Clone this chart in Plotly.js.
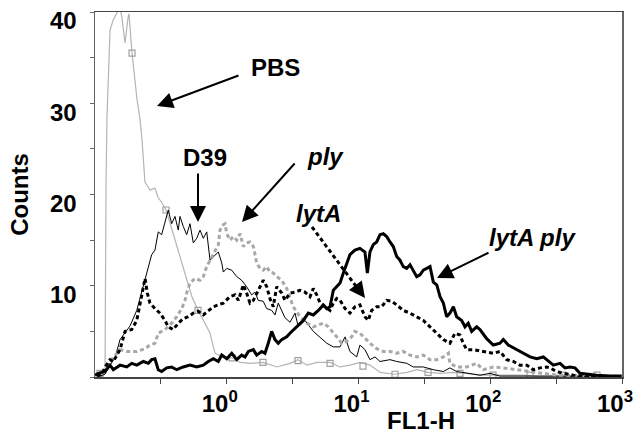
<!DOCTYPE html>
<html>
<head>
<meta charset="utf-8">
<script src="https://cdn.plot.ly/plotly-3.0.1.min.js"></script>
<style>html,body{margin:0;padding:0;background:#fff}#chart{width:639px;height:437px}</style>
</head>
<body>
<div id="chart"></div>
<script>
// x values are log10(FL1-H); y values are counts
const pbsLogX = [-0.985,-0.962,-0.939,-0.924,-0.916,-0.909,-0.886,-0.863,-0.833,-0.818,-0.795,-0.772,-0.750,-0.742,-0.719,-0.681,-0.658,-0.643,-0.621,-0.583,-0.545,-0.522,-0.492,-0.461,-0.431,-0.378,-0.340,-0.302,-0.264,-0.218,-0.165,-0.127,-0.089,-0.028,0.040,0.101,0.176,0.275,0.381,0.480,0.541,0.609,0.685,0.784,0.860,0.936,1.012,1.088,1.164,1.277,1.368,1.444,1.528,1.618,1.717,1.823,1.922,2.074,2.226,2.377,2.529,2.681,2.833,2.985];
const pbsCounts = [0.1,0.3,0.4,0.5,21.6,28.5,38.0,39.1,39.9,41.3,39.3,36.6,39.3,39.8,35.5,30.4,28.2,26.0,21.4,20.5,20.7,19.7,19.1,18.3,16.9,14.2,12.5,10.6,8.8,7.3,5.9,4.8,2.6,2.2,2.1,1.6,1.5,1.6,1.1,1.5,1.9,1.3,1.6,1.6,1.1,1.3,1.6,1.3,0.5,0.3,0.5,0.8,0.5,0.4,0.5,0.4,0.2,0.2,0.2,0.1,0.2,0.1,0.1,0.1];
const pbsMarkLogX = [-0.962,-0.719,-0.461,-0.218,0.040,0.275,0.541,0.784,1.034,1.277,1.528,1.770,2.021,2.302,2.552,2.810];
const pbsMarkCounts = [0.4,35.5,18.3,7.3,2.1,1.6,1.8,1.5,1.2,0.3,0.5,0.4,0.2,0.2,0.2,0.2];

const d39LogX = [-0.962,-0.924,-0.886,-0.848,-0.810,-0.772,-0.734,-0.683,-0.608,-0.570,-0.545,-0.520,-0.494,-0.469,-0.444,-0.418,-0.393,-0.368,-0.355,-0.330,-0.304,-0.279,-0.254,-0.228,-0.203,-0.178,-0.152,-0.127,-0.089,-0.064,-0.038,-0.026,0.000,0.038,0.076,0.113,0.151,0.189,0.214,0.239,0.277,0.303,0.341,0.366,0.391,0.417,0.442,0.480,0.518,0.543,0.594,0.657,0.708,0.759,0.809,0.860,0.898,0.935,0.986,1.011,1.049,1.087,1.125,1.163,1.239,1.290,1.366,1.416,1.492,1.568,1.644,1.694,1.745,1.821,1.922,1.998,2.074,2.302,2.605,2.985];
const d39Counts = [0.1,0.3,1.3,2.1,4.1,4.9,5.6,7.3,11.4,13.4,13.9,15.9,15.6,17.0,18.3,16.8,17.6,16.1,17.6,16.5,15.6,16.8,14.7,15.2,16.1,15.2,15.9,12.8,13.4,13.7,12.5,11.5,11.9,11.7,11.0,10.6,9.9,9.0,9.3,8.4,8.3,7.5,7.3,6.8,8.1,7.2,6.5,6.0,7.0,5.5,6.2,5.0,4.4,3.7,3.3,3.3,4.4,2.8,2.2,3.5,3.0,1.9,2.2,1.7,1.9,1.7,1.5,1.1,1.1,0.8,0.6,1.0,0.6,0.4,0.2,0.4,0.1,0.1,0.05,0.05];

const plyLogX = [-0.985,-0.939,-0.886,-0.810,-0.759,-0.683,-0.620,-0.583,-0.545,-0.520,-0.469,-0.418,-0.380,-0.342,-0.317,-0.304,-0.279,-0.241,-0.203,-0.178,-0.152,-0.127,-0.089,-0.064,-0.051,-0.026,-0.013,0.000,0.025,0.050,0.076,0.101,0.126,0.151,0.176,0.202,0.227,0.252,0.277,0.303,0.328,0.353,0.379,0.417,0.455,0.505,0.556,0.607,0.657,0.733,0.771,0.797,0.835,0.872,0.910,0.948,0.973,1.011,1.049,1.087,1.138,1.188,1.239,1.290,1.340,1.391,1.442,1.492,1.543,1.594,1.644,1.682,1.694,1.745,1.821,1.897,1.947,2.023,2.099,2.201,2.302,2.403,2.504,2.681,2.833];
const plyCounts = [0.1,0.5,1.7,3.0,2.8,2.8,3.1,3.5,3.7,4.8,5.2,5.9,6.6,7.5,8.4,9.2,10.3,10.8,10.6,11.0,12.1,12.8,13.7,14.5,16.1,16.7,16.8,15.7,15.0,15.4,15.0,15.7,14.3,14.7,14.8,14.3,12.5,11.9,11.7,12.1,11.5,11.4,11.0,10.6,9.7,7.7,6.6,5.9,5.5,5.9,5.5,5.0,4.4,3.7,3.9,4.4,5.0,4.8,4.2,3.7,3.1,2.8,2.8,2.6,2.8,2.4,2.2,2.4,1.9,1.9,2.2,2.6,1.5,1.1,1.1,1.5,0.8,1.1,1.0,0.8,0.6,0.4,0.2,0.15,0.1];

const lytALogX = [-0.985,-0.947,-0.924,-0.886,-0.861,-0.810,-0.772,-0.721,-0.683,-0.658,-0.633,-0.620,-0.603,-0.583,-0.545,-0.507,-0.469,-0.444,-0.406,-0.368,-0.330,-0.292,-0.254,-0.216,-0.178,-0.140,-0.102,-0.064,-0.026,0.025,0.063,0.088,0.126,0.151,0.176,0.202,0.227,0.252,0.277,0.303,0.328,0.353,0.379,0.417,0.442,0.480,0.518,0.556,0.594,0.632,0.657,0.683,0.708,0.746,0.784,0.809,0.835,0.860,0.898,0.935,0.973,1.011,1.049,1.074,1.100,1.138,1.176,1.214,1.252,1.290,1.340,1.391,1.442,1.492,1.543,1.594,1.644,1.694,1.732,1.770,1.795,1.821,1.871,1.947,2.023,2.074,2.125,2.175,2.226,2.277,2.327,2.378,2.428,2.454,2.504,2.555,2.630,2.706,2.833];
const lytACounts = [0.1,0.3,1.1,1.9,1.7,3.0,5.0,5.2,6.2,8.1,9.9,10.8,9.2,8.1,7.5,7.0,6.2,5.5,5.2,5.9,6.4,6.6,7.0,7.2,6.8,7.2,7.7,7.9,8.1,8.8,9.0,8.4,10.1,9.2,8.1,8.4,9.2,9.9,10.6,9.9,8.6,7.7,9.9,9.2,8.4,9.2,9.3,9.5,9.3,8.8,9.7,9.0,8.1,7.7,7.3,8.1,8.6,8.4,7.5,7.0,7.7,7.9,6.6,6.2,7.3,7.7,7.7,8.4,8.3,7.9,7.3,7.0,6.6,6.2,5.5,4.8,4.1,3.7,4.8,4.6,3.7,3.0,3.0,2.8,2.6,2.8,1.9,1.7,1.3,1.3,0.8,1.0,1.1,1.0,0.6,0.4,0.2,0.1,0.05];

const lytAplyLogX = [-1.000,-0.975,-0.924,-0.886,-0.861,-0.835,-0.810,-0.759,-0.721,-0.683,-0.633,-0.595,-0.570,-0.545,-0.520,-0.494,-0.456,-0.418,-0.380,-0.330,-0.279,-0.228,-0.178,-0.140,-0.102,-0.064,-0.038,0.000,0.038,0.076,0.113,0.139,0.164,0.202,0.227,0.265,0.290,0.315,0.341,0.366,0.391,0.417,0.455,0.480,0.518,0.581,0.619,0.657,0.695,0.733,0.759,0.784,0.809,0.835,0.860,0.885,0.910,0.935,0.973,1.011,1.049,1.067,1.087,1.112,1.138,1.163,1.188,1.214,1.239,1.264,1.290,1.315,1.340,1.366,1.391,1.416,1.442,1.467,1.492,1.518,1.543,1.568,1.594,1.619,1.644,1.669,1.694,1.720,1.745,1.783,1.808,1.833,1.859,1.897,1.922,1.973,2.023,2.074,2.099,2.137,2.201,2.251,2.302,2.353,2.403,2.428,2.479,2.530,2.567,2.605,2.643,2.681,2.732,2.808,2.909,2.998];
const lytAplyCounts = [0.2,0.4,0.6,1.3,0.8,1.1,1.3,1.1,1.5,1.3,1.7,1.5,1.9,2.0,0.8,0.6,1.0,1.1,0.8,1.1,1.3,1.1,1.3,1.7,2.0,1.7,2.4,2.0,2.6,1.9,2.4,2.2,2.8,3.0,2.4,2.8,2.6,3.7,5.0,4.1,3.7,4.1,4.4,4.8,5.3,6.2,7.0,6.8,7.3,7.9,7.5,7.7,9.5,9.9,10.3,11.4,12.5,13.4,13.9,14.1,13.7,11.4,13.7,14.5,14.8,15.6,15.7,15.4,14.8,14.3,13.2,12.8,12.1,11.9,12.3,11.7,11.0,11.2,11.7,11.9,12.1,10.4,10.1,8.8,8.1,6.6,7.0,7.7,6.6,6.2,5.5,5.9,5.0,5.5,5.2,4.2,3.5,3.7,4.1,3.5,3.0,2.6,2.2,2.0,2.2,1.9,1.3,1.5,1.0,1.1,1.0,0.4,0.3,0.2,0.1,0.1];

const xTickVals = [1,10,100,1000];
const xTickText = ['10<sup>0</sup>','10<sup>1</sup>','10<sup>2</sup>','10<sup>3</sup>'];
const xMinorVals = [0.316,3.16,31.6,316];
const yTickVals = [10,20,30,40];
const yTickText = ['10','20','30','40'];
const yMinorVals = [0,5,15,25,35];

const toX = a => a.map(v => Math.pow(10, v));
const FONT = 'Liberation Sans, Arial, sans-serif';

const traces = [
  {x: toX(pbsLogX), y: pbsCounts, mode:'lines', name:'PBS', line:{color:'#b4b4b4', width:1.2}},
  {x: toX(pbsMarkLogX), y: pbsMarkCounts, mode:'markers', name:'PBS markers', showlegend:false,
   marker:{symbol:'square-open', size:6, color:'#a0a0a0', line:{width:1.2}}},
  {x: toX(d39LogX), y: d39Counts, mode:'lines', name:'D39', line:{color:'#000', width:1}},
  {x: toX(plyLogX), y: plyCounts, mode:'lines', name:'ply', line:{color:'#a8a8a8', width:3, dash:'4px,3px'}},
  {x: toX(lytALogX), y: lytACounts, mode:'lines', name:'lytA', line:{color:'#000', width:3, dash:'4px,3px'}},
  {x: toX(lytAplyLogX), y: lytAplyCounts, mode:'lines', name:'lytA ply', line:{color:'#000', width:3}}
];

const W = 527, H = 365, L0 = 95, T0 = 12;
const px = p => (p - L0) / W;
const py = p => (T0 + H - p) / H;

function arrow(tx, ty, sx, sy) {
  return {xref:'paper', yref:'paper', axref:'pixel', ayref:'pixel', x:px(tx), y:py(ty), ax:sx-tx, ay:sy-ty,
    text:'', showarrow:true, arrowhead:2, arrowsize:1.6, arrowwidth:2, arrowcolor:'#000'};
}
function label(cx, cy, t, italic) {
  return {xref:'paper', yref:'paper', x:px(cx), y:py(cy), xanchor:'center', yanchor:'middle', showarrow:false,
    text: italic ? '<b><i>'+t+'</i></b>' : '<b>'+t+'</b>', font:{family:FONT, size:24, color:'#000'}};
}

const annotations = [
  label(275, 67, 'PBS', false), arrow(157, 106, 240, 75),
  label(205, 157, 'D39', false), arrow(198, 222, 198, 172),
  label(325, 156, 'ply', true), arrow(242, 222, 296, 162),
  label(318, 214, 'lytA', true), arrow(365, 298, 356, 286),
  label(532, 237, 'lytA ply', true), arrow(437, 278, 490, 252),
  {xref:'paper', yref:'paper', x:px(421), y:py(420), xanchor:'center', yanchor:'middle', showarrow:false,
   text:'<b>FL1-H</b>', font:{family:FONT, size:24, color:'#000'}}
];

const shapes = [
  {type:'line', xref:'paper', yref:'paper', x0:px(312), y0:py(227), x1:px(358), y1:py(289),
   line:{color:'#000', width:3, dash:'4px,3px'}}
];

const layout = {
  width:639, height:437,
  margin:{l:L0, r:639-L0-W, t:T0, b:437-T0-H},
  paper_bgcolor:'#fff', plot_bgcolor:'#fff',
  showlegend:false,
  font:{family:FONT, color:'#000'},
  xaxis:{type:'log', range:[-1,3], tickmode:'array', tickvals:xTickVals, ticktext:xTickText,
    ticks:'outside', ticklen:5, tickcolor:'#444', showgrid:false, zeroline:false,
    minor:{tickmode:'array', tickvals:xMinorVals, ticks:'outside', ticklen:5, tickcolor:'#444', showgrid:false},
    showline:true, linecolor:'#444', linewidth:1.5, mirror:true, ticklabeloverflow:'allow', ticklabelshift:-7,
    tickfont:{family:FONT, size:24, color:'#000', weight:'bold'}, ticklabelstandoff:0},
  yaxis:{range:[0,40], tickmode:'array', tickvals:yTickVals, ticktext:yTickText,
    ticks:'outside', ticklen:4, tickcolor:'#666', showgrid:false, zeroline:false,
    minor:{tickmode:'array', tickvals:yMinorVals, ticks:'outside', ticklen:4, tickcolor:'#666', showgrid:false},
    showline:true, linecolor:'#666', linewidth:1.5, mirror:true, ticklabeloverflow:'allow', ticklabelshift:9,
    tickfont:{family:FONT, size:24, color:'#000', weight:'bold'}, ticklabelstandoff:8,
    title:{text:'<b>Counts</b>', font:{family:FONT, size:24, color:'#000'}, standoff:14}},
  annotations: annotations,
  shapes: shapes
};

Plotly.newPlot('chart', traces, layout, {staticPlot:true, displayModeBar:false});
</script>
</body>
</html>
